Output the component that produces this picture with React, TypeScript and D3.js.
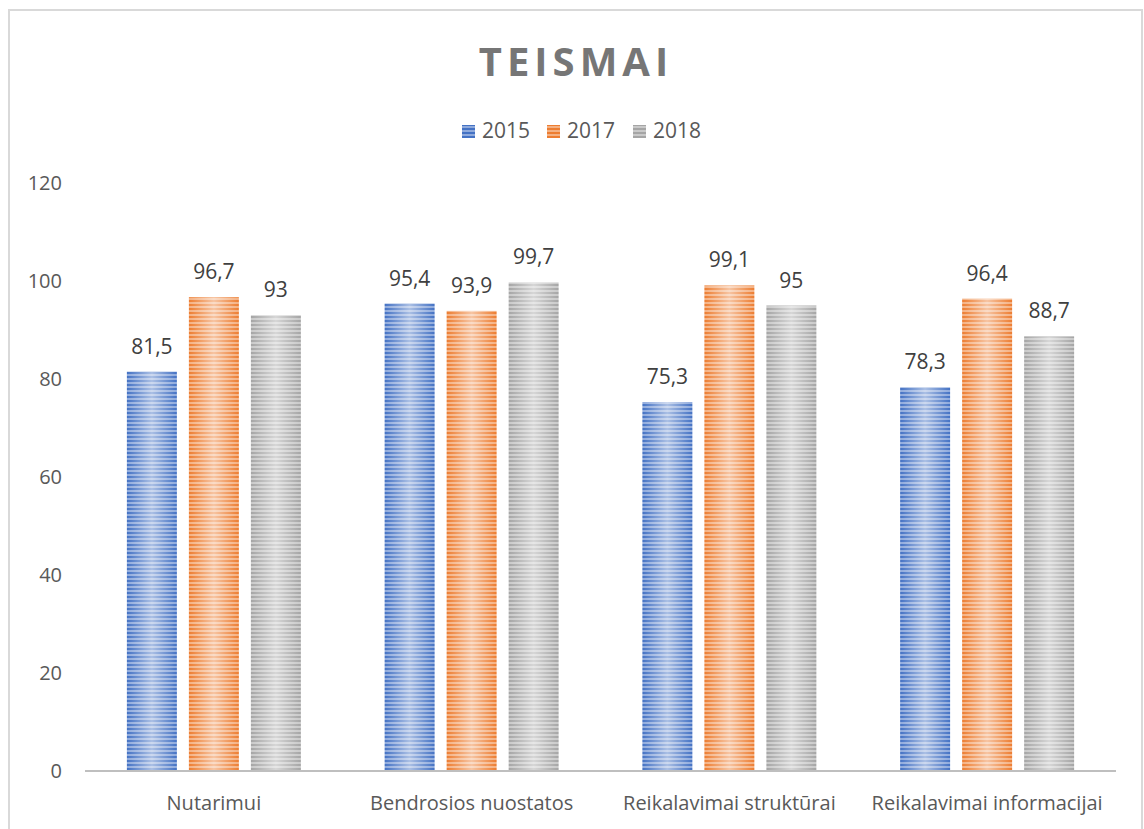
import React, { useEffect, useRef } from "react";
import * as d3 from "d3";

const categories = ["Nutarimui", "Bendrosios nuostatos", "Reikalavimai struktūrai", "Reikalavimai informacijai"];
const seriesNames = ["2015", "2017", "2018"];
const values2015 = [81.5, 95.4, 75.3, 78.3];
const values2017 = [96.7, 93.9, 99.1, 96.4];
const values2018 = [93, 99.7, 95, 88.7];
const yTicks = [0, 20, 40, 60, 80, 100, 120];

const colors = ["#4472c4", "#ed7d31", "#a5a5a5"];
const FONT = "'Open Sans', 'Noto Sans', sans-serif";

const App = () => {
  const ref = useRef<SVGSVGElement>(null);

  useEffect(() => {
    const svg = d3.select(ref.current);
    svg.selectAll("*").remove();

    const W = 1144, H = 829;
    const plot = { left: 85, right: 1116, top: 183, bottom: 771 };
    const series = [values2015, values2017, values2018];

    // frame
    svg.append("rect").attr("width", W).attr("height", H).attr("fill", "#fff");
    svg.append("rect")
      .attr("x", 9).attr("y", 10).attr("width", 1133).attr("height", 840)
      .attr("fill", "none").attr("stroke", "#d9d9d9").attr("stroke-width", 2);

    // striped fills for the bars
    const defs = svg.append("defs");
    const shine = defs.append("linearGradient").attr("id", "shine")
      .attr("x1", "0").attr("x2", "1").attr("y1", "0").attr("y2", "0");
    shine.append("stop").attr("offset", "0").attr("stop-color", "#fff").attr("stop-opacity", 0);
    shine.append("stop").attr("offset", "0.5").attr("stop-color", "#fff").attr("stop-opacity", 0.55);
    shine.append("stop").attr("offset", "1").attr("stop-color", "#fff").attr("stop-opacity", 0);

    colors.forEach((c, i) => {
      const p = defs.append("pattern").attr("id", `stripe${i}`)
        .attr("patternUnits", "userSpaceOnUse").attr("width", 8).attr("height", 4);
      p.append("rect").attr("width", 8).attr("height", 4).attr("fill", d3.interpolateRgb(c, "#fff")(0.4));
      p.append("rect").attr("width", 8).attr("height", 2).attr("fill", c);
    });

    const x0 = d3.scaleBand().domain(categories).range([plot.left, plot.right]);
    const groupW = x0.bandwidth() * 0.675;
    const x1 = d3.scaleBand().domain(seriesNames).range([0, groupW]).paddingInner(0.194);
    const y = d3.scaleLinear().domain([0, 120]).range([plot.bottom, plot.top]);

    // title
    svg.append("text")
      .attr("x", 576).attr("y", 76).attr("text-anchor", "middle")
      .attr("font-family", FONT).attr("font-size", 40).attr("font-weight", "bold")
      .attr("letter-spacing", 5).attr("fill", "#767676").text("TEISMAI");

    // legend
    const legendX = [462, 547, 633];
    seriesNames.forEach((s, i) => {
      svg.append("rect").attr("x", legendX[i]).attr("y", 125).attr("width", 13).attr("height", 13)
        .attr("fill", `url(#stripe${i})`);
      svg.append("text").attr("x", legendX[i] + 20).attr("y", 138)
        .attr("font-family", FONT).attr("font-size", 21).attr("fill", "#595959").text(s);
    });

    // y tick labels
    svg.append("g").selectAll("text").data(yTicks).join("text")
      .attr("x", 62).attr("y", (d) => y(d) + 7).attr("text-anchor", "end")
      .attr("font-family", FONT).attr("font-size", 20).attr("fill", "#595959")
      .text((d) => d);

    // bars
    categories.forEach((cat, ci) => {
      const gx = x0(cat)! + (x0.bandwidth() - groupW) / 2;
      series.forEach((vals, si) => {
        const bx = gx + x1(seriesNames[si])!;
        const v = vals[ci];
        svg.append("rect").attr("x", bx).attr("y", y(v)).attr("width", x1.bandwidth())
          .attr("height", y(0) - y(v)).attr("fill", `url(#stripe${si})`);
        svg.append("rect").attr("x", bx).attr("y", y(v)).attr("width", x1.bandwidth())
          .attr("height", y(0) - y(v)).attr("fill", "url(#shine)");
        svg.append("text").attr("x", bx + x1.bandwidth() / 2).attr("y", y(v) - 18)
          .attr("text-anchor", "middle").attr("font-family", FONT).attr("font-size", 21)
          .attr("fill", "#404040").text(String(v).replace(".", ","));
      });
    });

    // x axis
    svg.append("line").attr("x1", plot.left).attr("x2", plot.right)
      .attr("y1", y(0)).attr("y2", y(0)).attr("stroke", "#bfbfbf").attr("stroke-width", 2);
    svg.append("g").selectAll("text").data(categories).join("text")
      .attr("x", (d) => x0(d)! + x0.bandwidth() / 2).attr("y", 810).attr("text-anchor", "middle")
      .attr("font-family", FONT).attr("font-size", 20).attr("fill", "#595959")
      .text((d) => d);
  }, []);

  return <svg ref={ref} width={1144} height={829} style={{ position: "absolute", left: 0, top: 0 }} />;
};

export default App;
